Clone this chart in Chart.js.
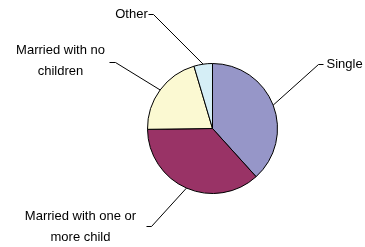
<!DOCTYPE html>
<html lang="en">
<head>
    <meta charset="UTF-8">
    <script src="https://cdn.jsdelivr.net/npm/chart.js"></script>
    <style>
        body { margin: 0; padding: 0; background: #fff; }
        .chart-container { position: relative; width: 365px; height: 247px; }
    </style>
</head>
<body>
    <div class="chart-container">
        <canvas id="pieChart"></canvas>
    </div>
    <script>
        // Data (percent of the pie)
        const categories = ['Single', 'Married with one or more child', 'Married with no children', 'Other'];
        const shares = [38.3, 36.5, 20.6, 4.6];
        const labelLines = [['Single'], ['Married with one or', 'more child'], ['Married with no', 'children'], ['Other']];
        const sliceColors = ['#9696C8', '#993366', '#FBF9D2', '#D5EEF6'];

        // where each callout sits, relative to the pie centre
        const callouts = [
            { elbow: [106, -64], tick: 5, text: [114, -64], align: 'left' },
            { elbow: [-61, 98], tick: -5, text: [-132, 98.5], align: 'center' },
            { elbow: [-97, -66], tick: -6, text: [-152, -67.5], align: 'center' },
            { elbow: [-59, -114], tick: -5, text: [-81, -114], align: 'center' }
        ];

        const calloutPlugin = {
            id: 'callouts',
            afterDraw(chart) {
                const ctx = chart.ctx;
                const meta = chart.getDatasetMeta(0);
                ctx.save();
                ctx.strokeStyle = '#000';
                ctx.lineWidth = 1;
                ctx.fillStyle = '#000';
                ctx.font = '13px "Liberation Sans", Arial, sans-serif';
                ctx.textBaseline = 'middle';
                meta.data.forEach((arc, i) => {
                    const p = arc.getProps(['x', 'y', 'startAngle', 'endAngle', 'outerRadius'], true);
                    const mid = (p.startAngle + p.endAngle) / 2;
                    const c = callouts[i];
                    const sx = p.x + Math.cos(mid) * p.outerRadius;
                    const sy = p.y + Math.sin(mid) * p.outerRadius;
                    const ex = p.x + c.elbow[0];
                    const ey = p.y + c.elbow[1];
                    ctx.beginPath();
                    ctx.moveTo(sx, sy);
                    ctx.lineTo(ex, ey);
                    ctx.lineTo(ex + c.tick, ey);
                    ctx.stroke();
                    const lines = labelLines[i];
                    const lh = 21;
                    const ty = p.y + c.text[1] - (lines.length - 1) * lh / 2;
                    ctx.textAlign = c.align;
                    lines.forEach((t, j) => {
                        ctx.fillText(t, p.x + c.text[0], ty + j * lh);
                    });
                });
                ctx.restore();
            }
        };

        new Chart(document.getElementById('pieChart'), {
            type: 'pie',
            data: {
                labels: categories,
                datasets: [{
                    data: shares,
                    backgroundColor: sliceColors,
                    borderColor: '#000',
                    borderWidth: 1,
                    radius: 65
                }]
            },
            options: {
                responsive: true,
                maintainAspectRatio: false,
                animation: false,
                layout: { padding: { left: 147, right: 87, top: 63, bottom: 53 } },
                plugins: {
                    legend: { display: false },
                    tooltip: { enabled: false }
                }
            },
            plugins: [calloutPlugin]
        });
    </script>
</body>
</html>
